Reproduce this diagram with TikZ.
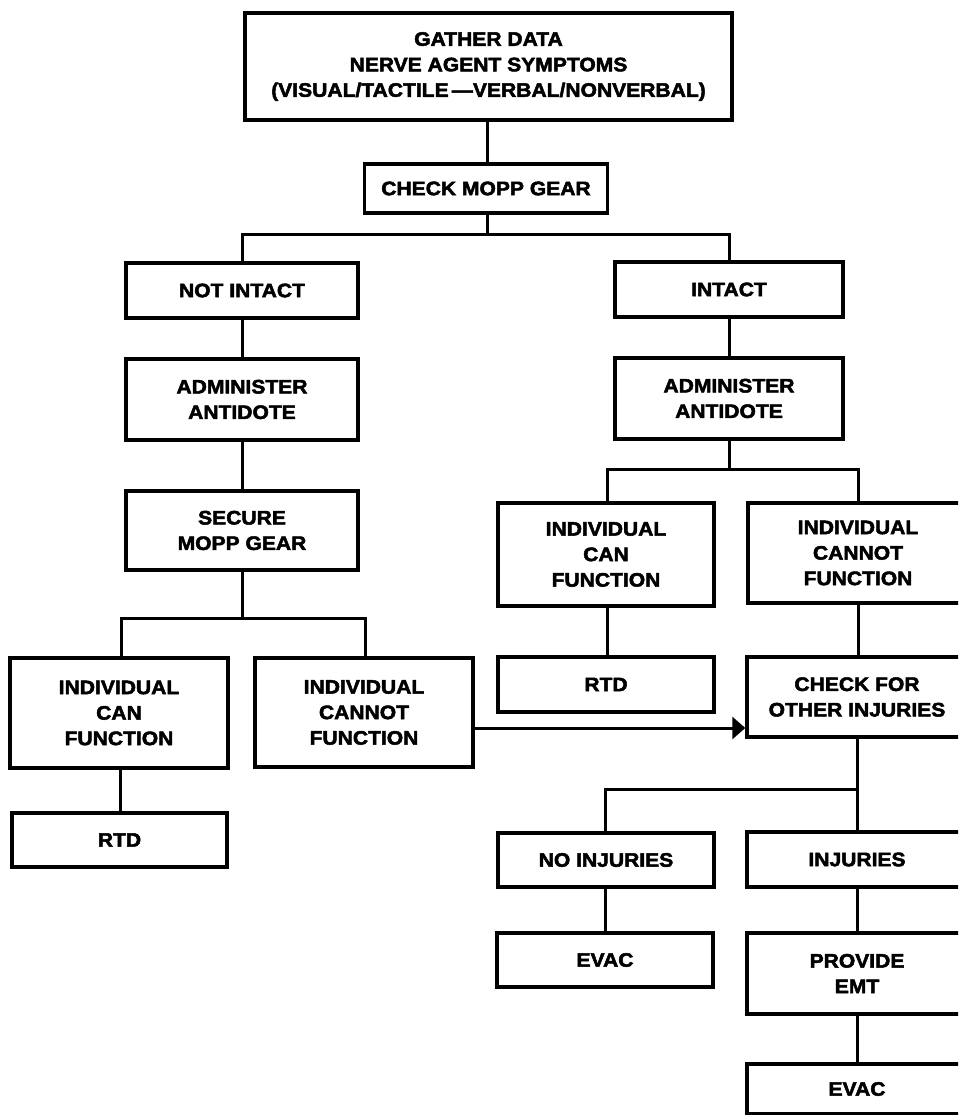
\documentclass[tikz,border=0pt]{standalone}
\usepackage{fontspec}
\newfontfamily\boxfont[FakeStretch=1.08,FakeBold=2.5]{Liberation Sans}
\usetikzlibrary{arrows.meta}
\tikzset{
  box/.style={draw=black, line width=3.4pt, fill=white, align=center, inner sep=0pt,
    font=\boxfont\bfseries\fontsize{19.5}{25.5}\selectfont},
  link/.style={draw=black, line width=3pt},
  arr/.style={link, -{Triangle[length=13pt,width=22pt]}}
}
\begin{document}
\begin{tikzpicture}[x=1pt,y=-1pt]
\path[use as bounding box, clip] (0,0) rectangle (958,1115);
\fill[white] (0,0) rectangle (958,1115);
% nodes
\node[box, minimum width=487pt, minimum height=107pt] (top) at (488.5,66.5)
  {GATHER DATA\\NERVE AGENT SYMPTOMS\\(VISUAL/TACTILE\,—VERBAL/NONVERBAL)};
\node[box, minimum width=243pt, minimum height=49pt] (check) at (486,188.5) {CHECK MOPP GEAR};
\node[box, minimum width=232pt, minimum height=55pt] (notintact) at (242,290.5) {NOT INTACT};
\node[box, minimum width=228pt, minimum height=55pt] (intact) at (729,289.5) {INTACT};
\node[box, minimum width=232pt, minimum height=81pt] (adminL) at (242,399.5) {ADMINISTER\\ANTIDOTE};
\node[box, minimum width=228pt, minimum height=81pt] (adminR) at (729,398.5) {ADMINISTER\\ANTIDOTE};
\node[box, minimum width=232pt, minimum height=79pt] (secure) at (242,530.5) {SECURE\\MOPP GEAR};
\node[box, minimum width=218pt, minimum height=110pt] (canL) at (119,713) {INDIVIDUAL\\CAN\\FUNCTION};
\node[box, minimum width=218pt, minimum height=109pt] (cannotL) at (364,712.5) {INDIVIDUAL\\CANNOT\\FUNCTION};
\node[box, minimum width=215pt, minimum height=54pt] (rtdL) at (119.5,840) {RTD};
\node[box, minimum width=216pt, minimum height=103pt] (canR) at (606,554.5) {INDIVIDUAL\\CAN\\FUNCTION};
\node[box, minimum width=220pt, minimum height=100pt] (cannotR) at (858,553) {INDIVIDUAL\\CANNOT\\FUNCTION};
\node[box, minimum width=216pt, minimum height=55pt] (rtdR) at (606,684.5) {RTD};
\node[box, minimum width=220pt, minimum height=80pt] (checkfor) at (857,697) {CHECK FOR\\OTHER INJURIES};
\node[box, minimum width=216pt, minimum height=54pt] (noinj) at (606,860) {NO INJURIES};
\node[box, minimum width=220pt, minimum height=55pt] (inj) at (857,859.5) {INJURIES};
\node[box, minimum width=216pt, minimum height=54pt] (evacL) at (605,960) {EVAC};
\node[box, minimum width=220pt, minimum height=81pt] (provide) at (857,973.5) {PROVIDE\\EMT};
\node[box, minimum width=220pt, minimum height=50pt] (evacR) at (857,1089) {EVAC};
% branch points
\coordinate (b1) at (487,235);
\coordinate (b2) at (242,618);
\coordinate (b3) at (729,469);
\coordinate (b4) at (857,789);
% connectors
\draw[link] (top.south -| b1) -- (check.north -| b1);
\draw[link] (check.south -| b1) -- (b1);
\draw[link] (notintact.north) -- (notintact.north |- b1) -- (intact.north |- b1) -- (intact.north);
\draw[link] (notintact) -- (adminL);
\draw[link] (adminL) -- (secure);
\draw[link] (secure.south) -- (b2);
\draw[link] (canL.north -| 121,0) -- (121,618) -- (365,618) -- (cannotL.north -| 365,0);
\draw[link] (canL.south -| 120,0) -- (rtdL.north -| 120,0);
\draw[link] (intact) -- (adminR);
\draw[link] (adminR.south) -- (b3);
\draw[link] (canR.north -| 607,0) -- (607,469) -- (858,469) -- (cannotR.north -| 858,0);
\draw[link] (canR.south -| 607,0) -- (rtdR.north -| 607,0);
\draw[link] (cannotR.south -| 858,0) -- (checkfor.north -| 858,0);
\draw[arr] (cannotL.east |- 0,728) -- (checkfor.west |- 0,728);
\draw[link] (checkfor.south -| b4) -- (inj.north -| b4);
\draw[link] (b4) -- (605,789) -- (noinj.north -| 605,0);
\draw[link] (noinj.south -| 605,0) -- (evacL.north -| 605,0);
\draw[link] (inj) -- (provide);
\draw[link] (provide) -- (evacR);
\end{tikzpicture}
\end{document}
